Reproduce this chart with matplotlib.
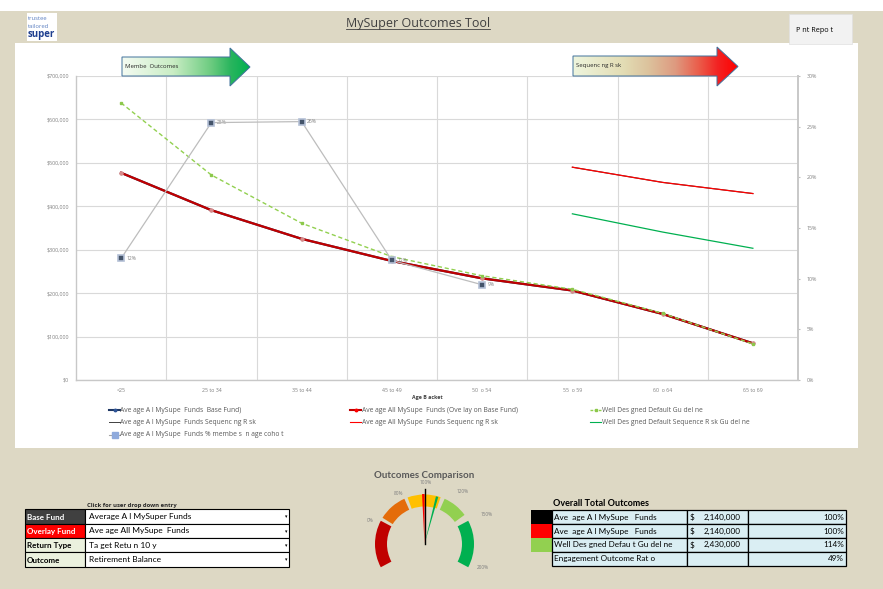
import numpy as np
import matplotlib
matplotlib.use('Agg')
import matplotlib.pyplot as plt
from matplotlib.patches import Rectangle, Polygon, Wedge
from matplotlib.colors import LinearSegmentedColormap

plt.rcParams['font.family'] = ['Open Sans', 'DejaVu Sans']

# 年龄段与各条曲线的数据
age_brackets = ['<25', '25 to 34', '35 to 44', '45 to 49', '50  o 54', '55  o 59', '60  o 64', '65 to 69']
base_fund = [477000, 391000, 325000, 274000, 234000, 206000, 152000, 84500]
overlay_fund = [477000, 391000, 325000, 274000, 234000, 206000, 152000, 84500]
guideline = [638000, 472000, 361000, 284000, 240000, 209000, 153500, 83000]
nan = np.nan
base_seq_risk = [nan, nan, nan, nan, nan, 0.210, 0.195, 0.184]
overlay_seq_risk = [nan, nan, nan, nan, nan, 0.210, 0.195, 0.184]
guide_seq_risk = [nan, nan, nan, nan, nan, 0.164, 0.146, 0.130]
members_pct = [0.12, 0.254, 0.255, 0.118, 0.094, nan, nan, nan]

legend_labels = ['Ave age A l MySupe  Funds  Base Fund)',
                 'Ave age A l MySupe  Funds Sequenc ng R sk',
                 'Ave age A l MySupe  Funds % membe s  n age coho t',
                 'Ave age All MySupe  Funds (Ove lay on Base Fund)',
                 'Ave age All MySupe  Funds Sequenc ng R sk',
                 'Well Des gned Default Gu del ne',
                 'Well Des gned Default Sequence R sk Gu del ne']

# 下方的选择表和汇总表
select_labels = ['Base Fund', 'Overlay Fund', 'Return Type', 'Outcome']
select_values = ['Average A l MySuper Funds', 'Ave age All MySupe  Funds',
                 'Ta get Retu n 10 y', 'Retirement Balance']
total_names = ['Ave  age A l MySupe   Funds', 'Ave  age A l MySupe   Funds',
               'Well Des gned Defau t Gu del ne', 'Engagement Outcome Rat o']
total_amounts = [2140000, 2140000, 2430000]
engagement_ratio = 0.49
gauge_ticks = [0.0, 0.8, 1.0, 1.2, 1.5, 2.0]

W, H = 883, 589
BEIGE = '#DDD8C4'
fig = plt.figure(figsize=(W / 100, H / 100), dpi=100)
fig.patch.set_facecolor(BEIGE)

# 背景层，用像素坐标
bg = fig.add_axes([0, 0, 1, 1])
bg.set_xlim(0, W)
bg.set_ylim(H, 0)
bg.set_axis_off()
bg.add_patch(Rectangle((0, 0), W, 11, facecolor='white', edgecolor='none'))
bg.add_patch(Rectangle((15, 43), 843, 405, facecolor='white', edgecolor='none'))

# logo
bg.add_patch(Rectangle((27, 13), 30, 28, facecolor='white', edgecolor='none'))
bg.text(28, 19, 'trustee', fontsize=4.2, color='#5B7FC0', va='center')
bg.text(28, 26, 'tailored', fontsize=4.2, color='#5B7FC0', va='center')
bg.text(27.5, 34.5, 'super', fontsize=7, color='#1F3F8F', va='center', fontweight='bold')

title = bg.text(418, 23, 'MySuper Outcomes Tool', fontsize=9, color='#404040', ha='center', va='center')
bg.add_patch(Rectangle((789, 14), 63, 30, facecolor='#F2F2F2', edgecolor='#E0E0E0', lw=0.5))
bg.text(796, 30, 'P nt Repo t', fontsize=5.2, color='black', va='center')

# 主图
ax = fig.add_axes([76 / W, 1 - 380 / H, 722 / W, 304 / H])
x = np.arange(len(age_brackets))
ax.set_xlim(-0.5, len(age_brackets) - 0.5)
ax.set_ylim(0, 700000)
ax.set_yticks(np.arange(0, 700001, 100000))
ax.set_yticklabels(['${:,}'.format(v) if v else '$0' for v in range(0, 700001, 100000)])
ax.set_xticks(x)
ax.set_xticklabels(age_brackets)
ax.set_xticks(np.arange(0.5, len(age_brackets) - 1, 1), minor=True)
ax.grid(axis='y', color='#D9D9D9', lw=0.8)
ax.grid(axis='x', which='minor', color='#D9D9D9', lw=0.8)
ax.tick_params(axis='both', which='both', length=0, labelsize=3.8, labelcolor='#7F7F7F', pad=5)
ax.tick_params(axis='x', pad=6)
for s in ['top', 'right']:
    ax.spines[s].set_visible(False)
for s in ['left', 'bottom']:
    ax.spines[s].set_color('#C8C8C8')
    ax.spines[s].set_linewidth(1.0)
ax.set_xlabel('Age B acket', fontsize=3.8, fontweight='bold', color='#404040', labelpad=2)
ax.xaxis.set_label_coords(0.487, -0.05)

ax2 = ax.twinx()
ax2.set_ylim(0, 0.30)
ax2.set_yticks(np.arange(0, 0.31, 0.05))
ax2.set_yticklabels(['{:.0%}'.format(v) for v in np.arange(0, 0.31, 0.05)])
ax2.tick_params(axis='y', length=1.5, color='#BFBFBF', labelsize=3.8, labelcolor='#7F7F7F', pad=5)
for s in ['top', 'left', 'bottom']:
    ax2.spines[s].set_visible(False)
ax2.spines['right'].set_color('#C8C8C8')
ax2.spines['right'].set_linewidth(1.4)

ax.plot(x, base_fund, color='#1F3864', lw=1.6, marker='o', ms=1.5, zorder=3)
ax.plot(x, overlay_fund, color='#C00000', lw=1.6, marker='o', ms=2.2,
        mfc='#D98C8C', mec='#D98C8C', zorder=4)
ax.plot(x, guideline, color='#92D050', lw=1.0, ls=(0, (3, 2)), marker='s', ms=2,
        mfc='#8CC84B', mec='#8CC84B', zorder=5)
ax2.plot(x, base_seq_risk, color='#404040', lw=0.8)
ax2.plot(x, overlay_seq_risk, color='#FF0000', lw=0.9)
ax2.plot(x, guide_seq_risk, color='#00B050', lw=0.9)
ax2.plot(x, members_pct, color='#BDBDBD', lw=0.9, marker='s', ms=4.5,
         mfc='#44546A', mec='#B4C0D6', mew=1.2, zorder=6)
for xi, v in zip(x, members_pct):
    if not np.isnan(v):
        ax2.annotate('{:.0%}'.format(v), (xi, v), xytext=(4, 0), textcoords='offset points',
                     fontsize=3.6, color='#7F7F7F', va='center')

# 图例（手工排列成三列）
leg_styles = [
    dict(color='#1F3864', lw=1.5, marker='o', ms=1.8, mfc='#2F5597', mec='#2F5597'),
    dict(color='#404040', lw=0.7),
    dict(color='#A5A5A5', lw=0.8, marker='s', ms=4.2, mfc='#8FAADC', mec='#8FAADC'),
    dict(color='#C00000', lw=1.5, marker='o', ms=1.8, mfc='#FF0000', mec='#FF0000'),
    dict(color='#FF0000', lw=0.8),
    dict(color='#92D050', lw=1.0, ls=(0, (2, 1)), marker='s', ms=2, mfc='#8CC84B', mec='#8CC84B'),
    dict(color='#00B050', lw=0.8),
]
leg_pos = [(109, 410), (109, 422), (109, 435), (350, 410), (350, 422), (590, 410), (590, 422)]
for (lx, ly), st, lab in zip(leg_pos, leg_styles, legend_labels):
    mk = {k: st[k] for k in ('marker', 'ms', 'mfc', 'mec') if k in st}
    ln = {k: st[k] for k in ('color', 'lw', 'ls') if k in st}
    bg.plot([lx, lx + 11], [ly, ly], **ln, zorder=3)
    if mk:
        bg.plot([lx + 5.5], [ly], ls='none', **mk, zorder=4)
    bg.text(lx + 11.5, ly, lab, fontsize=4.9, color='#595959', va='center')

# 箭头
ov = fig.add_axes([0, 0, 1, 1], zorder=5)
ov.set_axis_off()
ov.patch.set_alpha(0)


def grad_arrow(pts, stops, label, tx, ty):
    poly = Polygon(pts, closed=True, facecolor='none', edgecolor='#41719C', lw=0.7, zorder=3)
    ov.add_patch(poly)
    xs = [p[0] for p in pts]
    ys = [p[1] for p in pts]
    cmap = LinearSegmentedColormap.from_list('arrow', stops)
    im = ov.imshow(np.linspace(0, 1, 256).reshape(1, -1), cmap=cmap, aspect='auto',
                   extent=[min(xs), max(xs), max(ys), min(ys)], zorder=2)
    im.set_clip_path(poly)
    ov.text(tx, ty, label, fontsize=4.3, color='#262626', va='center', zorder=4)


grad_arrow([(122, 57), (230, 57), (230, 48), (250, 67), (230, 86), (230, 76), (122, 76)],
           [(0, '#F4FBF2'), (0.4, '#C9EDC4'), (0.7, '#6BCB7F'), (0.85, '#2AB55E'), (1, '#00B050')],
           'Membe  Outcomes', 125, 67)
grad_arrow([(573, 56), (717, 56), (717, 47), (738, 66.5), (717, 86), (717, 76), (573, 76)],
           [(0, '#EEF5DD'), (0.3, '#E3DDB5'), (0.45, '#DCC49E'), (0.62, '#DE9A80'),
            (0.77, '#EB5A48'), (0.88, '#F32222'), (1, '#FF0000')],
           'Sequenc ng R sk', 576, 66)
ov.set_xlim(0, W)
ov.set_ylim(H, 0)

# 左下选择表
bg.text(87, 505, 'Click for user drop down entry', fontsize=4.2, fontweight='bold', color='#262626', va='center')
row_y = [509, 523.5, 538, 552.3, 566.7]
lab_bg = ['#404040', '#FF0000', '#EBF1DE', '#EBF1DE']
lab_fg = ['white', 'white', 'black', 'black']
for i in range(4):
    y0, y1 = row_y[i], row_y[i + 1]
    bg.add_patch(Rectangle((25, y0), 60, y1 - y0, facecolor=lab_bg[i], edgecolor='black', lw=0.8))
    bg.add_patch(Rectangle((85, y0), 204, y1 - y0, facecolor='white', edgecolor='black', lw=0.8))
    bg.text(27, (y0 + y1) / 2 + 0.8, select_labels[i], fontsize=5.8, fontweight='bold',
            color=lab_fg[i], va='center', family=['Lato', 'DejaVu Sans'])
    bg.text(89, (y0 + y1) / 2, select_values[i], fontsize=6, color='black', va='center',
            family=['Lato', 'DejaVu Sans'])
    bg.text(287, (y0 + y1) / 2 + 0.5, '▾', fontsize=3.5, color='black', va='center', ha='right',
            family='DejaVu Sans')

# 仪表盘
cx, cy = 424.5, 544
bg.text(cx, 476, 'Outcomes Comparison', fontsize=7, fontweight='bold', color='#595959',
        ha='center', va='center', family=['Lato', 'DejaVu Sans'])
seg_angles = [(152, 208), (114, 148), (71, 110), (36, 66), (-28, 28)]
seg_colors = ['#C00000', '#E46C0A', '#FFC000', '#92D050', '#00B050']
for (a1, a2), c in zip(seg_angles, seg_colors):
    bg.add_patch(Wedge((cx, cy), 49.5, -a2, -a1, width=12, facecolor=c, edgecolor='none'))
label_angles = [156, 117, 88.7, 54, 25.5, -22]
label_radius = [59, 57, 62, 65, 69, 63]
for t, a, r in zip(gauge_ticks, label_angles, label_radius):
    bg.text(cx + r * np.cos(np.radians(a)), cy - r * np.sin(np.radians(a)), '{:.0%}'.format(t),
            fontsize=3.4, color='#7F7F7F', ha='center', va='center')


# 比例 -> 指针角度（度）
def needle_angle(v):
    return float(np.interp(v, [0.0, 0.8, 1.0, 1.2, 1.5, 2.0], [156, 117, 90, 68, 32, -22]))


ratios = [a / total_amounts[0] for a in total_amounts]
a_red = needle_angle(ratios[1])
a_grn = needle_angle(ratios[2])
bg.add_patch(Wedge((cx, cy), 50, -(a_red + 2.8), -a_red, facecolor='#FF0000', edgecolor='none', zorder=4))
bg.add_patch(Wedge((cx, cy), 49, -(a_grn + 1.4), -(a_grn - 1.4), facecolor='#00B050', edgecolor='none', zorder=4))
a_blk = np.radians(needle_angle(ratios[0]))
bg.plot([cx, cx + 55 * np.cos(a_blk)], [cy, cy - 55 * np.sin(a_blk)], color='black', lw=1.0, zorder=5)

# 右下汇总表
bg.text(553, 504, 'Overall Total Outcomes', fontsize=6.5, fontweight='bold', color='black',
        va='center', family=['Lato', 'DejaVu Sans'])
trow_y = [510, 524.3, 537.8, 551.8, 566]
swatch = ['#000000', '#FF0000', '#92D050', None]
cols = [552.3, 686.7, 747.7, 846]
for i in range(4):
    y0, y1 = trow_y[i], trow_y[i + 1]
    ym = (y0 + y1) / 2
    if swatch[i]:
        bg.add_patch(Rectangle((530.7, y0), 21.6, y1 - y0, facecolor=swatch[i], edgecolor='none'))
    for c0, c1 in zip(cols[:-1], cols[1:]):
        bg.add_patch(Rectangle((c0, y0), c1 - c0, y1 - y0, facecolor='#DAEEF3', edgecolor='black', lw=0.9))
    bg.text(554, ym, total_names[i], fontsize=5.9, color='black', va='center', family=['Lato', 'DejaVu Sans'])
    if i < 3:
        bg.text(690, ym, '$', fontsize=5.9, color='black', va='center', family=['Lato', 'DejaVu Sans'])
        bg.text(741, ym, '{:,}'.format(total_amounts[i]), fontsize=5.9, color='black', va='center',
                ha='right', family=['Lato', 'DejaVu Sans'])
        pct = ratios[i]
    else:
        pct = engagement_ratio
    bg.text(844, ym, '{:.0%}'.format(pct), fontsize=5.9, color='black', va='center', ha='right',
            family=['Lato', 'DejaVu Sans'])

# 标题下划线
fig.canvas.draw()
bb = title.get_window_extent().transformed(bg.transData.inverted())
bg.plot([bb.x0, bb.x1], [bb.y0 - 0.5, bb.y0 - 0.5], color='#404040', lw=0.6)

fig.savefig('out.png', dpi=100, facecolor=BEIGE)
